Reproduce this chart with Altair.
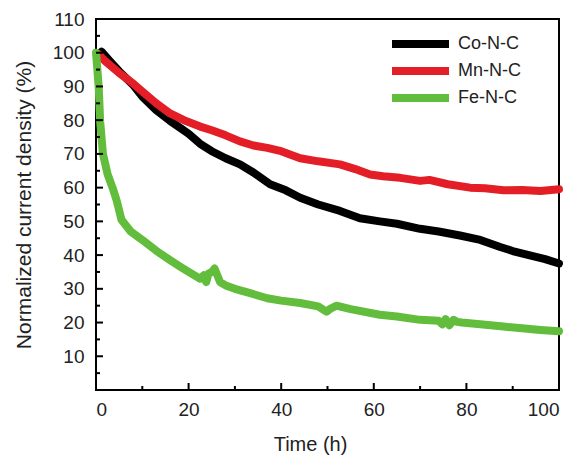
import altair as alt
import pandas as pd

# ---- data ----
t_co = [0.8, 1.2, 3, 5, 8, 10, 13, 16, 20, 22.5, 25, 28, 31.1, 34, 37.6, 41, 44.1, 48,
        52.7, 57, 61.3, 65, 70, 74, 78.6, 83, 87.3, 90, 93.7, 97, 100]
v_co = [99.8, 100.3, 97.5, 94.5, 90.5, 87, 83, 79.8, 76, 73, 70.8, 68.7, 66.9, 64.5,
        61, 59.2, 57, 55, 53.1, 50.9, 50, 49.3, 47.8, 47, 45.8, 44.5, 42.4, 41.2, 39.9, 38.8, 37.5]

t_mn = [0.6, 2, 5, 8, 10, 13, 16, 19, 22.5, 25, 28, 31.1, 34, 37, 40, 44.1, 48, 52.7,
        56, 59.2, 62, 65.7, 70, 72, 76, 80.8, 84, 88, 92, 96, 100]
v_mn = [99.5, 97.5, 94, 90.9, 88.5, 85, 82, 80, 78.1, 77, 75.5, 73.7, 72.5, 71.8, 70.8,
        68.7, 67.8, 66.9, 65.5, 63.9, 63.4, 62.9, 62, 62.3, 61, 60, 59.8, 59.2, 59.3, 59, 59.5]

t_fe = [0, 0.3, 0.6, 0.9, 1.5, 2.5, 3.7, 4.5, 5.5, 7.5, 10, 13, 16, 18.5, 21, 22.5, 23.3,
        23.8, 24.3, 25, 25.6, 26.2, 26.8, 28, 30, 33.3, 37, 40, 44.1, 48, 49.8, 50.5, 51.9,
        55, 61.3, 65, 70, 74, 74.8, 75.5, 76.3, 77.2, 78, 79, 83, 88, 92, 96, 100]
v_fe = [100, 95, 89.4, 79.6, 70, 64, 59.5, 56, 50.5, 47, 44.5, 41.3, 38.5, 36.3, 34.2, 33,
        34, 32, 34.5, 35, 36, 34, 32, 31, 30, 28.7, 27.2, 26.5, 25.8, 24.8, 23.2, 24, 25,
        24, 22.3, 21.8, 20.8, 20.5, 19.5, 21, 19.2, 20.8, 20.2, 20, 19.5, 18.8, 18.3, 17.8, 17.4]

series = ["Co-N-C", "Mn-N-C", "Fe-N-C"]
colors = ["#000000", "#e41e26", "#62bd3c"]

x_labels = [0, 20, 40, 60, 80, 100]
y_labels = [10, 20, 30, 40, 50, 60, 70, 80, 90, 100, 110]
x_major = [20, 40, 60, 80]
x_minor = [10, 30, 50, 70, 90]
y_major = [10, 20, 30, 40, 50, 60, 70, 80, 90, 100]
y_minor = [5, 15, 25, 35, 45, 55, 65, 75, 85, 95, 105]

W, H = 463, 371
FONT = "Liberation Sans"

frames = []
for name, ts, vs in [("Co-N-C", t_co, v_co), ("Mn-N-C", t_mn, v_mn), ("Fe-N-C", t_fe, v_fe)]:
    frames.append(pd.DataFrame({"t": ts, "v": vs, "s": name, "i": range(len(ts))}))

xs = alt.Scale(domain=[0, 100], nice=False, zero=False)
ys = alt.Scale(domain=[0, 110], nice=False)
cs = alt.Scale(domain=series, range=colors)

x_axis = alt.Axis(values=x_labels, title="Time (h)", ticks=False,
                  domain=False, grid=False, labelFontSize=19, labelPadding=10,
                  titleFontSize=20, titleFontWeight="normal", titlePadding=15, titleX=214,
                  labelFont=FONT, titleFont=FONT, labelColor="#222", titleColor="#222")
y_axis = alt.Axis(values=y_labels,
                  title="Normalized current density (%)", ticks=False, domain=False,
                  grid=False, labelFontSize=19, labelPadding=12, titleFontSize=21,
                  titleFontWeight="normal", titlePadding=18, labelFont=FONT,
                  titleFont=FONT, labelColor="#222", titleColor="#222")
legend = alt.Legend(orient="none", legendX=292, legendY=16,
                    symbolType="stroke", symbolSize=3249, clipHeight=18,
                    symbolStrokeWidth=8, labelFontSize=18,
                    labelFont=FONT, labelColor="#222",
                    rowPadding=9, labelOffset=5, padding=0)

def line(df):
    return alt.Chart(df).mark_line(strokeWidth=8, strokeCap="round", strokeJoin="round").encode(
        x=alt.X("t:Q", scale=xs, axis=x_axis, title="Time (h)"),
        y=alt.Y("v:Q", scale=ys, axis=y_axis, title="Normalized current density (%)"),
        color=alt.Color("s:N", scale=cs, title=None, legend=legend),
        order="i:Q",
    )

layers = [line(f) for f in frames]

def xticks(vals, ln):
    return alt.Chart(pd.DataFrame({"t": vals})).mark_rule(color="black", strokeWidth=2).encode(
        x=alt.X("t:Q", scale=xs, axis=x_axis, title="Time (h)"),
        y=alt.value(H), y2=alt.value(H - ln))

def yticks(vals, ln):
    return alt.Chart(pd.DataFrame({"v": vals})).mark_rule(color="black", strokeWidth=2).encode(
        y=alt.Y("v:Q", scale=ys, axis=y_axis, title="Normalized current density (%)"),
        x=alt.value(0), x2=alt.value(ln))

ticks = [xticks(x_major, 7), xticks(x_minor, 4), yticks(y_major, 7), yticks(y_minor, 4)]

chart = alt.layer(*layers, *ticks).properties(
    width=W, height=H,
    background="white",
    autosize=alt.AutoSizeParams(type="none"),
    padding={"left": 88, "top": 11, "right": 10, "bottom": 65},
).configure_view(stroke="black", strokeWidth=2)

chart.save("out.html", embed_options={"renderer": "svg", "actions": False})
